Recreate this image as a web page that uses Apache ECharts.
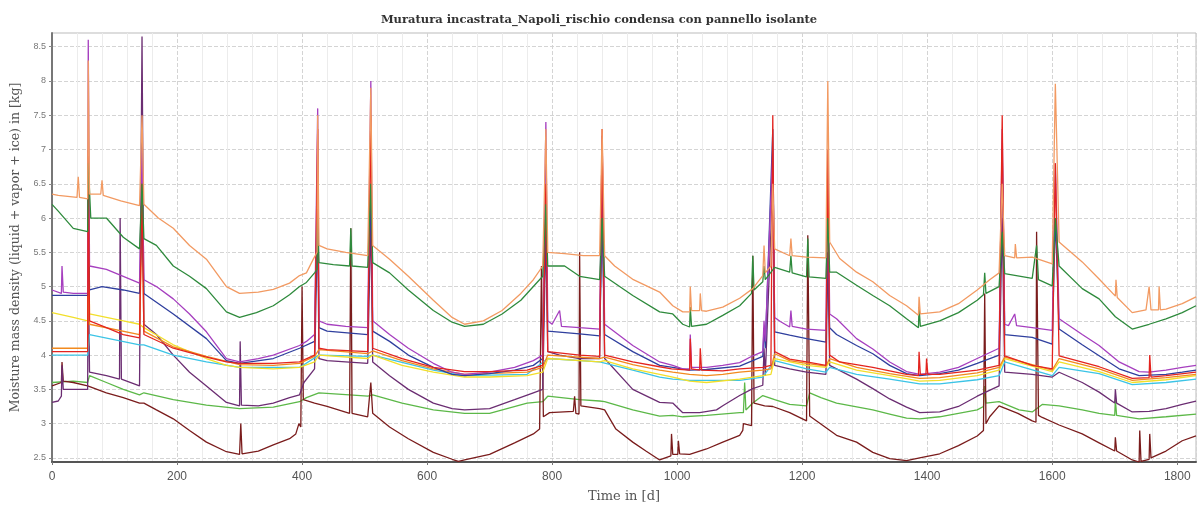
<!DOCTYPE html>
<html><head><meta charset="utf-8">
<script src="https://cdn.jsdelivr.net/npm/echarts@6/dist/echarts.min.js"></script>
<style>html,body{margin:0;padding:0;background:#fff}#c{width:1198px;height:508px}</style>
</head><body><div id="c"></div>
<script>
const titleText = 'Muratura incastrata_Napoli_rischio condensa con pannello isolante';
const xName = 'Time in [d]';
const yName = 'Moisture mass density (liquid + vapor + ice) in [kg]';
const yTicks = [2.5,3,3.5,4,4.5,5,5.5,6,6.5,7,7.5,8,8.5];

const orange = [[0,6.35],[10,6.33],[40,6.3],[42,6.6],[44,6.3],[57,6.28],[58,8.3],[60,6.35],[78,6.35],[80,6.55],[82,6.33],[110,6.25],[140,6.18],[144,7.5],[147,6.2],[170,6.0],[194,5.85],[220,5.6],[247,5.4],[279,5.0],[300,4.9],[330,4.92],[354,4.96],[380,5.05],[396,5.16],[407,5.2],[418,5.4],[424,5.5],[425,7.5],[427,5.6],[440,5.55],[470,5.5],[505,5.45],[510,7.9],[513,5.6],[540,5.4],[570,5.15],[610,4.8],[640,4.55],[660,4.45],[690,4.5],[720,4.65],[750,4.9],[770,5.1],[785,5.3],[790,7.3],[793,5.5],[820,5.48],[850,5.45],[876,5.45],[880,7.3],[884,5.45],[900,5.3],[930,5.1],[972,4.92],[993,4.72],[1009,4.63],[1020,4.63],[1021,5.0],[1023,4.65],[1036,4.65],[1037,4.9],[1039,4.65],[1047,4.64],[1073,4.7],[1100,4.83],[1121,4.97],[1137,5.16],[1139,5.6],[1141,5.2],[1150,5.3],[1153,6.5],[1156,5.55],[1180,5.45],[1182,5.7],[1184,5.45],[1207,5.43],[1238,5.42],[1241,8.0],[1244,5.65],[1260,5.41],[1287,5.21],[1313,5.07],[1340,4.87],[1367,4.72],[1386,4.58],[1387,4.85],[1389,4.6],[1420,4.63],[1450,4.75],[1480,4.95],[1500,5.1],[1515,5.2],[1520,6.5],[1524,5.45],[1540,5.42],[1541,5.62],[1543,5.42],[1568,5.43],[1600,5.33],[1605,7.96],[1611,5.65],[1648,5.36],[1675,5.11],[1701,4.86],[1702,5.1],[1704,4.84],[1728,4.62],[1750,4.66],[1755,5.0],[1758,4.66],[1770,4.66],[1771,5.0],[1773,4.66],[1782,4.67],[1808,4.75],[1830,4.85]];

const green = [[0,6.2],[10,6.1],[34,5.85],[57,5.8],[58,6.8],[62,6.0],[87,6.0],[114,5.72],[140,5.55],[144,6.5],[147,5.7],[167,5.6],[194,5.3],[220,5.15],[247,4.97],[279,4.63],[300,4.55],[327,4.62],[354,4.72],[380,4.88],[396,5.0],[407,5.06],[420,5.2],[424,5.25],[425,6.0],[427,5.35],[450,5.32],[476,5.3],[478,5.85],[480,5.3],[505,5.28],[510,6.5],[513,5.35],[540,5.2],[570,4.95],[610,4.65],[640,4.48],[660,4.42],[690,4.45],[720,4.6],[750,4.8],[770,5.0],[785,5.15],[790,6.2],[793,5.3],[820,5.3],[844,5.15],[876,5.1],[880,6.0],[884,5.15],[929,4.87],[972,4.63],[993,4.6],[1009,4.45],[1020,4.41],[1021,4.7],[1023,4.42],[1047,4.45],[1073,4.58],[1100,4.72],[1119,4.9],[1121,5.45],[1123,4.95],[1137,5.07],[1139,5.3],[1141,5.1],[1156,5.28],[1180,5.21],[1182,5.45],[1184,5.2],[1207,5.14],[1209,5.7],[1211,5.14],[1238,5.12],[1241,6.0],[1244,5.21],[1255,5.21],[1287,5.02],[1313,4.87],[1340,4.72],[1367,4.53],[1386,4.4],[1387,4.7],[1389,4.42],[1420,4.5],[1450,4.62],[1480,4.8],[1490,4.88],[1492,5.2],[1494,4.9],[1515,5.0],[1520,5.8],[1524,5.19],[1568,5.12],[1575,5.6],[1578,5.1],[1600,5.01],[1605,6.0],[1611,5.3],[1648,4.97],[1675,4.82],[1701,4.56],[1728,4.38],[1755,4.45],[1782,4.53],[1808,4.62],[1830,4.72]];

const violet = [[0,4.95],[15,4.9],[16,5.3],[18,4.92],[34,4.9],[57,4.9],[58,8.6],[60,5.3],[87,5.25],[114,5.15],[140,5.05],[144,7.0],[147,5.1],[167,5.0],[194,4.82],[220,4.6],[247,4.34],[279,3.95],[300,3.9],[330,3.95],[354,4.0],[396,4.14],[407,4.2],[420,4.3],[425,7.6],[427,4.5],[440,4.45],[470,4.42],[505,4.4],[510,8.0],[513,4.5],[540,4.3],[570,4.1],[610,3.88],[640,3.75],[660,3.72],[700,3.75],[740,3.82],[770,3.92],[785,4.0],[790,7.4],[793,4.5],[800,4.45],[812,4.65],[815,4.42],[844,4.4],[876,4.38],[880,7.2],[884,4.45],[929,4.14],[972,3.9],[993,3.85],[1009,3.8],[1020,3.8],[1021,4.3],[1023,3.82],[1047,3.82],[1073,3.85],[1100,3.89],[1121,3.99],[1137,4.05],[1139,4.5],[1141,4.2],[1153,7.0],[1156,4.55],[1165,4.49],[1180,4.41],[1182,4.65],[1184,4.42],[1207,4.38],[1238,4.36],[1241,7.0],[1244,4.6],[1255,4.53],[1287,4.24],[1313,4.09],[1340,3.9],[1367,3.76],[1388,3.72],[1420,3.75],[1450,3.82],[1480,3.95],[1515,4.1],[1520,7.3],[1524,4.45],[1530,4.43],[1540,4.6],[1543,4.43],[1568,4.4],[1600,4.36],[1605,6.8],[1611,4.53],[1648,4.3],[1675,4.14],[1707,3.9],[1739,3.76],[1755,3.75],[1782,3.78],[1808,3.82],[1830,3.85]];

const blue = [[0,4.87],[34,4.87],[57,4.87],[58,6.5],[60,4.95],[80,5.0],[114,4.95],[140,4.9],[144,6.0],[147,4.9],[194,4.6],[247,4.24],[279,3.92],[300,3.88],[354,3.95],[396,4.1],[420,4.2],[425,6.5],[427,4.4],[440,4.35],[505,4.3],[510,6.5],[513,4.35],[540,4.2],[570,4.0],[610,3.82],[640,3.72],[660,3.7],[700,3.73],[740,3.78],[770,3.85],[785,3.95],[790,6.0],[793,4.35],[844,4.31],[876,4.28],[880,6.0],[884,4.3],[929,4.05],[972,3.85],[993,3.82],[1020,3.78],[1047,3.79],[1100,3.84],[1121,3.92],[1137,3.98],[1139,4.4],[1141,4.1],[1153,7.3],[1156,4.34],[1180,4.29],[1207,4.24],[1238,4.19],[1241,5.5],[1244,4.4],[1255,4.3],[1287,4.14],[1313,4.02],[1340,3.85],[1367,3.73],[1388,3.7],[1420,3.73],[1450,3.78],[1480,3.88],[1515,4.0],[1520,7.0],[1524,4.3],[1568,4.26],[1600,4.16],[1605,6.0],[1611,4.38],[1648,4.15],[1675,3.99],[1707,3.8],[1739,3.7],[1782,3.72],[1808,3.75],[1830,3.78]];

const red = [[0,4.05],[30,4.05],[57,4.05],[58,7.0],[60,4.5],[87,4.4],[114,4.3],[140,4.25],[144,6.5],[147,4.3],[194,4.1],[247,3.97],[279,3.9],[300,3.88],[354,3.88],[396,3.9],[420,4.0],[425,7.3],[427,4.1],[440,4.08],[505,4.05],[510,7.5],[513,4.1],[560,3.95],[610,3.82],[660,3.76],[700,3.76],[760,3.78],[785,3.85],[790,6.5],[793,4.05],[844,4.0],[876,3.98],[880,7.3],[884,4.0],[929,3.9],[972,3.83],[991,3.8],[1020,3.78],[1021,4.24],[1023,3.8],[1036,3.78],[1037,4.1],[1039,3.78],[1073,3.77],[1100,3.8],[1137,3.82],[1150,3.85],[1153,7.5],[1156,4.05],[1180,3.94],[1207,3.9],[1238,3.85],[1241,7.0],[1244,4.0],[1260,3.9],[1313,3.82],[1367,3.72],[1386,3.7],[1387,4.05],[1389,3.72],[1398,3.72],[1399,3.95],[1401,3.72],[1420,3.72],[1480,3.78],[1515,3.85],[1520,7.5],[1524,3.99],[1568,3.85],[1600,3.8],[1605,6.8],[1611,3.99],[1675,3.83],[1728,3.66],[1755,3.67],[1756,4.0],[1758,3.68],[1782,3.7],[1830,3.75]];

const amber = [[0,4.1],[57,4.1],[58,6.0],[60,4.45],[140,4.3],[144,6.0],[147,4.35],[194,4.12],[247,3.98],[300,3.86],[354,3.85],[396,3.88],[420,3.98],[427,4.08],[505,4.02],[513,4.06],[560,3.92],[610,3.8],[660,3.72],[760,3.75],[785,3.82],[793,4.0],[876,3.95],[884,3.97],[929,3.86],[972,3.78],[993,3.75],[1020,3.72],[1047,3.7],[1073,3.72],[1100,3.75],[1137,3.78],[1150,3.8],[1156,4.02],[1180,3.92],[1207,3.88],[1238,3.84],[1244,3.95],[1287,3.82],[1340,3.73],[1388,3.66],[1420,3.67],[1480,3.74],[1515,3.82],[1524,3.97],[1600,3.78],[1611,3.95],[1675,3.8],[1728,3.63],[1782,3.67],[1830,3.72]];

const yellow = [[0,4.62],[34,4.55],[57,4.5],[58,6.6],[60,4.6],[114,4.5],[140,4.45],[147,4.4],[194,4.15],[247,3.95],[279,3.85],[300,3.82],[354,3.8],[396,3.82],[420,3.9],[427,4.0],[505,3.95],[513,4.0],[560,3.85],[610,3.75],[660,3.68],[700,3.68],[760,3.7],[785,3.75],[793,3.95],[876,3.9],[884,3.92],[929,3.8],[972,3.72],[993,3.68],[1020,3.62],[1047,3.6],[1100,3.65],[1137,3.7],[1150,3.72],[1156,3.95],[1207,3.85],[1238,3.82],[1244,3.9],[1287,3.78],[1340,3.7],[1388,3.62],[1420,3.63],[1480,3.7],[1515,3.78],[1524,3.95],[1600,3.76],[1611,3.9],[1675,3.76],[1728,3.6],[1782,3.64],[1830,3.7]];

const cyan = [[0,4.0],[57,4.0],[60,4.3],[140,4.15],[147,4.15],[194,4.0],[247,3.9],[300,3.82],[396,3.82],[427,4.0],[505,3.98],[513,4.0],[610,3.78],[660,3.7],[760,3.72],[793,3.95],[876,3.9],[929,3.78],[972,3.68],[993,3.65],[1020,3.63],[1100,3.63],[1137,3.68],[1156,3.92],[1207,3.8],[1238,3.75],[1244,3.82],[1287,3.72],[1340,3.65],[1388,3.58],[1420,3.58],[1480,3.64],[1515,3.7],[1524,3.9],[1600,3.7],[1611,3.82],[1675,3.73],[1728,3.57],[1782,3.6],[1830,3.65]];

const plum = [[0,3.31],[10,3.33],[15,3.4],[16,3.85],[18,3.5],[30,3.5],[57,3.5],[58,5.5],[60,3.75],[87,3.7],[108,3.65],[109,6.0],[111,3.65],[140,3.55],[144,8.65],[147,4.45],[167,4.3],[194,4.0],[220,3.75],[247,3.55],[279,3.31],[300,3.26],[301,4.2],[303,3.27],[330,3.26],[354,3.3],[380,3.38],[396,3.42],[403,3.6],[420,3.8],[425,6.0],[427,3.95],[440,3.92],[505,3.88],[510,6.0],[513,3.9],[540,3.7],[570,3.5],[610,3.3],[640,3.22],[660,3.2],[700,3.22],[740,3.35],[770,3.45],[785,3.5],[790,5.8],[793,4.05],[812,4.0],[844,3.95],[876,3.95],[880,6.5],[884,3.95],[929,3.5],[972,3.31],[993,3.3],[1009,3.16],[1036,3.16],[1063,3.2],[1073,3.26],[1100,3.41],[1121,3.51],[1137,3.56],[1139,4.1],[1141,3.7],[1153,6.5],[1156,3.85],[1180,3.8],[1207,3.75],[1238,3.72],[1241,5.5],[1244,3.85],[1255,3.8],[1287,3.65],[1313,3.51],[1340,3.36],[1367,3.24],[1388,3.16],[1420,3.17],[1450,3.25],[1480,3.4],[1515,3.55],[1520,6.0],[1524,3.75],[1568,3.72],[1600,3.68],[1611,3.75],[1648,3.6],[1675,3.46],[1700,3.3],[1701,3.5],[1703,3.3],[1728,3.17],[1755,3.18],[1782,3.22],[1808,3.28],[1830,3.33]];

const lime = [[0,3.6],[34,3.62],[57,3.6],[60,3.7],[87,3.6],[114,3.5],[140,3.42],[147,3.45],[194,3.35],[247,3.27],[300,3.22],[354,3.24],[396,3.32],[407,3.38],[427,3.45],[476,3.42],[505,3.4],[513,3.42],[560,3.3],[610,3.2],[660,3.15],[700,3.15],[760,3.3],[785,3.32],[793,3.4],[844,3.35],[876,3.33],[884,3.32],[929,3.2],[972,3.11],[993,3.12],[1009,3.1],[1047,3.12],[1100,3.16],[1106,3.16],[1108,3.6],[1110,3.2],[1121,3.3],[1137,3.41],[1156,3.35],[1180,3.28],[1207,3.26],[1212,3.45],[1230,3.38],[1255,3.3],[1313,3.2],[1340,3.14],[1367,3.08],[1388,3.07],[1420,3.1],[1480,3.2],[1490,3.25],[1492,3.55],[1494,3.3],[1515,3.32],[1547,3.2],[1568,3.17],[1584,3.28],[1611,3.26],[1648,3.2],[1675,3.15],[1700,3.12],[1701,3.35],[1703,3.12],[1739,3.07],[1782,3.1],[1830,3.14]];

const maroon = [[0,3.55],[15,3.6],[16,3.9],[18,3.62],[34,3.6],[57,3.55],[60,3.55],[87,3.45],[114,3.38],[140,3.3],[147,3.3],[167,3.2],[194,3.07],[220,2.9],[247,2.73],[279,2.59],[300,2.55],[302,3.0],[304,2.56],[330,2.6],[354,2.69],[380,2.78],[390,2.85],[395,3.0],[398,2.95],[400,5.0],[402,3.35],[420,3.3],[440,3.25],[476,3.15],[478,5.85],[480,3.15],[505,3.1],[510,3.6],[513,3.15],[540,2.95],[570,2.78],[610,2.58],[640,2.48],[650,2.45],[660,2.47],[700,2.55],[740,2.72],[770,2.85],[780,2.92],[783,5.3],[786,3.1],[796,3.16],[834,3.18],[836,3.4],[838,3.15],[843,3.14],[844,5.5],[846,3.26],[876,3.22],[884,3.2],[902,2.92],[929,2.73],[950,2.6],[972,2.47],[990,2.53],[991,2.85],[993,2.55],[1001,2.55],[1002,2.75],[1004,2.56],[1020,2.55],[1047,2.63],[1073,2.73],[1100,2.83],[1105,2.9],[1106,3.0],[1119,2.97],[1121,5.45],[1123,3.3],[1140,3.26],[1153,3.25],[1180,3.16],[1207,3.04],[1209,5.75],[1212,3.11],[1255,2.83],[1287,2.73],[1313,2.58],[1340,2.49],[1367,2.46],[1388,2.5],[1420,2.56],[1450,2.68],[1480,2.82],[1490,2.9],[1492,4.9],[1494,3.0],[1500,3.1],[1515,3.26],[1545,3.15],[1568,3.04],[1574,3.02],[1575,5.8],[1578,3.12],[1584,3.09],[1611,2.98],[1648,2.85],[1675,2.72],[1700,2.6],[1701,2.8],[1703,2.6],[1728,2.47],[1739,2.44],[1740,2.9],[1742,2.45],[1755,2.48],[1756,2.85],[1758,2.5],[1782,2.6],[1808,2.75],[1830,2.82]];

const seriesList = [
  ['lime', lime, '#5cb848'],
  ['maroon', maroon, '#7a1c1c'],
  ['plum', plum, '#6b2d72'],
  ['cyan', cyan, '#3cc4e6'],
  ['yellow', yellow, '#f2df2a'],
  ['amber', amber, '#f28a1e'],
  ['blue', blue, '#2f3f9e'],
  ['violet', violet, '#a63fbf'],
  ['red', red, '#e3241f'],
  ['green', green, '#2e8a3c'],
  ['orange', orange, '#f29a62']
];

const chart = echarts.init(document.getElementById('c'), null, {renderer: 'canvas'});
chart.setOption({
  animation: false,
  backgroundColor: '#fff',
  title: {
    text: titleText, left: 'center', top: 9,
    textStyle: {fontFamily: 'DejaVu Serif', fontSize: 11.5, fontWeight: 'bold', color: '#333'}
  },
  grid: {left: 52, right: 2, top: 33, bottom: 45, show: true, borderColor: '#bbb', borderWidth: 1},
  xAxis: {
    type: 'value', min: 0, max: 1830, interval: 200,
    name: xName, nameLocation: 'middle', nameGap: 28,
    nameTextStyle: {fontFamily: 'DejaVu Serif', fontSize: 13, color: '#555'},
    axisLine: {show: true, lineStyle: {color: '#555', width: 2}},
    axisTick: {show: true, length: 3, lineStyle: {color: '#777'}},
    axisLabel: {fontFamily: 'Liberation Sans', fontSize: 12, color: '#555', margin: 9, showMaxLabel: false,
      formatter: v => String(v)},
    splitLine: {show: true, lineStyle: {color: '#d4d4d4', type: 'dashed'}},
    minorTick: {show: false, splitNumber: 5},
    minorSplitLine: {show: true, lineStyle: {color: '#ececec'}}
  },
  yAxis: {
    type: 'value', min: 2.44, max: 8.7,
    name: yName, nameLocation: 'middle', nameGap: 29, nameRotate: 90,
    nameTextStyle: {fontFamily: 'DejaVu Serif', fontSize: 12.5, color: '#555'},
    axisLine: {show: true, lineStyle: {color: '#777', width: 2}},
    axisTick: {show: true, length: 3, lineStyle: {color: '#888'}, customValues: yTicks},
    axisLabel: {fontFamily: 'Liberation Sans', fontSize: 9, color: '#777', margin: 6, customValues: yTicks},
    splitLine: {show: true, lineStyle: {color: '#d4d4d4', type: 'dashed'}}
  },
  series: seriesList.map(([name, data, color]) => ({
    name, type: 'line', data, showSymbol: false, symbol: 'none',
    lineStyle: {color, width: 1.3}, itemStyle: {color},
    emphasis: {disabled: true}, clip: true
  }))
});
</script>
</body></html>
